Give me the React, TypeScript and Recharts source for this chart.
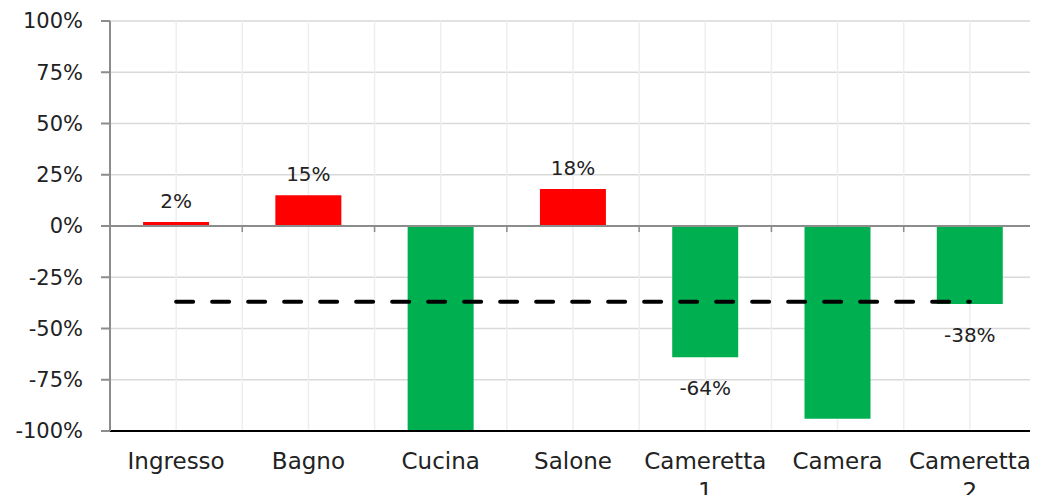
import React from 'react';
import {
  ComposedChart, Bar, Line, XAxis, YAxis, CartesianGrid,
  ReferenceLine, LabelList, Cell
} from 'recharts';

const categories = ['Ingresso', 'Bagno', 'Cucina', 'Salone', 'Cameretta 1', 'Camera', 'Cameretta 2'];
const variation = [2, 15, -100, 18, -64, -94, -38];
const barLabels = ['2%', '15%', null, '18%', '-64%', null, '-38%'];
const averageLine = [-37, -37, -37, -37, -37, -37, -37];
const yTicks = [-100, -75, -50, -25, 0, 25, 50, 75, 100];

const FONT = '"DejaVu Sans", sans-serif';
const TEXT = '#222';
const RED = '#ff0000';
const GREEN = '#00b050';

const data = categories.map((name, i) => ({
  name,
  value: variation[i],
  avg: averageLine[i],
  label: barLabels[i],
}));

const XTick = (props: any) => {
  const { x, y, payload } = props;
  const lines = String(payload.value).split(' ');
  return (
    <g>
      {lines.map((ln, i) => (
        <text
          key={i}
          x={x}
          y={y + 30 + i * 30}
          textAnchor="middle"
          fill={TEXT}
          fontSize={23}
          fontFamily={FONT}
        >
          {ln}
        </text>
      ))}
    </g>
  );
};

const ValueLabel = (props: any) => {
  const { x, y, width, height, index } = props;
  const txt = barLabels[index];
  if (!txt) return null;
  const top = Math.min(y, y + height);
  const bottom = Math.max(y, y + height);
  const neg = variation[index] < 0;
  const ty = neg ? bottom + 38 : top - 14;
  return (
    <text x={x + width / 2} y={ty} textAnchor="middle" fill={TEXT} fontSize={20} fontFamily={FONT}>
      {txt}
    </text>
  );
};

// zero line with small tick marks at the category boundaries
const ZeroLine = (props: any) => {
  const { x1, x2, y1 } = props;
  if (x1 == null) return null;
  const step = (x2 - x1) / categories.length;
  const ticks = [];
  for (let i = 0; i <= categories.length; i++) {
    const tx = x1 + i * step;
    ticks.push(<line key={i} x1={tx} x2={tx} y1={y1} y2={y1 + 6} stroke="#8c8c8c" strokeWidth={1.5} />);
  }
  return (
    <g>
      <line x1={x1} x2={x2} y1={y1} y2={y1} stroke="#8c8c8c" strokeWidth={2} />
      {ticks}
    </g>
  );
};

export default function App() {
  return (
    <div style={{ margin: -8, background: '#fff' }}>
      <ComposedChart
        width={1038}
        height={503}
        data={data}
        margin={{ top: 21, right: 2, bottom: 0, left: 0 }}
        barCategoryGap="25%"
      >
        <CartesianGrid
          vertical={false}
          stroke="#d9d9d9"
          strokeWidth={1.5}
        />
        <CartesianGrid
          horizontal={false}
          stroke="#eeeeee"
          strokeWidth={1.5}
          verticalCoordinatesGenerator={({ offset }: any) => {
            const out: number[] = [];
            for (let i = 1; i < categories.length * 2; i++) {
              out.push(offset.left + (i * offset.width) / (categories.length * 2));
            }
            return out;
          }}
        />
        <XAxis
          dataKey="name"
          interval={0}
          height={72}
          tickLine={false}
          axisLine={{ stroke: '#000', strokeWidth: 2 }}
          tick={<XTick />}
        />
        <XAxis
          xAxisId="top"
          orientation="top"
          dataKey="name"
          height={0}
          tick={false}
          tickLine={false}
          axisLine={{ stroke: '#000', strokeWidth: 2 }}
        />
        <YAxis
          type="number"
          domain={[-100, 100]}
          ticks={yTicks}
          allowDataOverflow
          width={110}
          interval={0}
          tickSize={9}
          tickMargin={18}
          tickLine={{ stroke: '#8c8c8c', strokeWidth: 2 }}
          axisLine={{ stroke: '#8c8c8c', strokeWidth: 2 }}
          tickFormatter={(v: number) => `${v}%`}
          tick={{ fill: TEXT, fontSize: 21, fontFamily: FONT }}
        />
        <YAxis
          yAxisId="right"
          orientation="right"
          type="number"
          domain={[-100, 100]}
          width={0}
          tick={false}
          tickLine={false}
          axisLine={{ stroke: '#000', strokeWidth: 2 }}
        />
        <Bar dataKey="value" isAnimationActive={false}>
          {data.map((d, i) => (
            <Cell key={i} fill={d.value >= 0 ? RED : GREEN} />
          ))}
          <LabelList dataKey="label" content={<ValueLabel />} />
        </Bar>
        <ReferenceLine y={0} shape={<ZeroLine />} />
        <Line
          dataKey="avg"
          stroke="#000"
          strokeWidth={4}
          strokeDasharray="17 19"
          strokeLinecap="round"
          dot={false}
          activeDot={false}
          isAnimationActive={false}
        />
      </ComposedChart>
    </div>
  );
}
